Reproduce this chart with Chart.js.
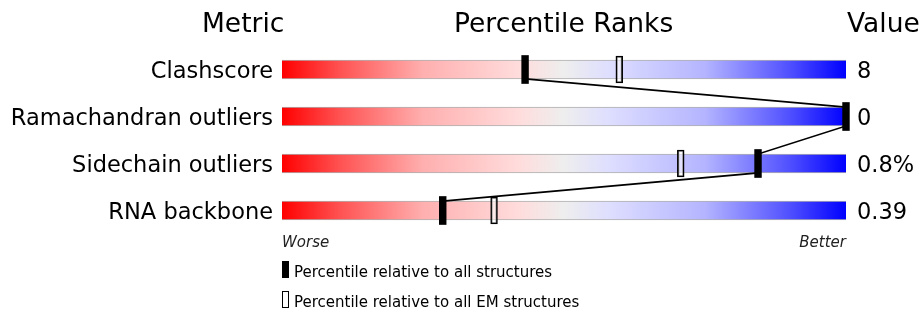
<!DOCTYPE html>
<html>
<head>
<meta charset="utf-8">
<script src="https://cdn.jsdelivr.net/npm/chart.js@4"></script>
<style>
  html, body { margin: 0; padding: 0; background: #fff; }
  #wrap { position: relative; width: 922px; height: 312px; overflow: hidden; font-family: "DejaVu Sans", sans-serif; color: #000; }
  #c { position: absolute; left: 0; top: 0; }
  .t { position: absolute; white-space: nowrap; line-height: 1; }
  .hdr { font-size: 26.5px; top: 10px; }
  .it { font-size: 15px; font-style: italic; top: 235px; color: #222; }
  .lg { font-size: 15px; left: 294px; }
  .sw { position: absolute; left: 282px; width: 7px; box-sizing: border-box; }
</style>
</head>
<body>
<div id="wrap">
  <canvas id="c" width="922" height="312"></canvas>
  <div class="t hdr" style="left:202px">Metric</div>
  <div class="t hdr" style="left:454px">Percentile Ranks</div>
  <div class="t hdr" style="left:847px">Value</div>
  <div class="t it" style="left:282px">Worse</div>
  <div class="t it" style="right:76px">Better</div>
  <div class="sw" style="top:261px;height:17px;background:#000"></div>
  <div class="t lg" style="top:265px">Percentile relative to all structures</div>
  <div class="sw" style="top:291px;background:#fff;border:1.5px solid #000;height:17px"></div>
  <div class="t lg" style="top:295px">Percentile relative to all EM structures</div>
</div>
<script>
const metrics = ["Clashscore", "Ramachandran outliers", "Sidechain outliers", "RNA backbone"];
const valueLabels = ["8", "0", "0.8%", "0.39"];
const pctAll = [43.1, 100, 84.4, 28.5];
const pctEM = [59.8, null, 70.7, 37.6];

const half = 0.6;     // marker half-width in percentile units
const edge = 0.2;     // bar half-height in category units

const gradientBars = metrics.map(() => [0, 100]);
const allMarkers = pctAll.map(p => p == null ? null : [p - half, p + half]);
const emMarkers = pctEM.map(p => p == null ? null : [p - half, p + half]);
const linkPoints = [];
pctAll.forEach((p, i) => {
  if (i > 0) linkPoints.push({x: p, y: i - edge});
  if (i < pctAll.length - 1) linkPoints.push({x: p, y: i + edge});
});

function grad(ctx) {
  const chart = ctx.chart;
  const area = chart.chartArea;
  if (!area) return '#eee';
  const g = chart.ctx.createLinearGradient(area.left, 0, area.right, 0);
  g.addColorStop(0.00, 'rgb(255,0,0)');
  g.addColorStop(0.10, 'rgb(255,80,80)');
  g.addColorStop(0.25, 'rgb(255,175,175)');
  g.addColorStop(0.42, 'rgb(255,220,220)');
  g.addColorStop(0.50, 'rgb(238,238,238)');
  g.addColorStop(0.58, 'rgb(222,222,255)');
  g.addColorStop(0.75, 'rgb(180,180,255)');
  g.addColorStop(0.90, 'rgb(80,80,255)');
  g.addColorStop(1.00, 'rgb(0,0,255)');
  return g;
}

new Chart(document.getElementById('c'), {
  type: 'bar',
  data: {
    labels: metrics,
    datasets: [
      {
        label: 'range', data: gradientBars, backgroundColor: grad,
        borderColor: 'rgb(175,175,175)', borderWidth: {top: 1, bottom: 1, left: 0, right: 0},
        borderSkipped: false, barThickness: 19, grouped: false, order: 4
      },
      {
        label: 'link', type: 'line', data: linkPoints, xAxisID: 'x', yAxisID: 'yl',
        borderColor: '#000', borderWidth: 1.6, pointRadius: 0, fill: false, tension: 0, order: 3
      },
      {
        label: 'em', data: emMarkers, backgroundColor: 'rgba(255,255,255,0.55)',
        borderColor: '#000', borderWidth: 1.5, borderSkipped: false, barThickness: 27,
        grouped: false, order: 2, clip: false
      },
      {
        label: 'all', data: allMarkers, backgroundColor: '#000', borderWidth: 0,
        barThickness: 28, grouped: false, order: 1, clip: false
      }
    ]
  },
  options: {
    indexAxis: 'y',
    responsive: false,
    animation: false,
    events: [],
    layout: { padding: { top: 46, bottom: 78, left: 0, right: 0 } },
    plugins: { legend: { display: false }, tooltip: { enabled: false } },
    scales: {
      x: { type: 'linear', min: 0, max: 100, display: false },
      y: {
        type: 'category', position: 'left', grid: { display: false, drawTicks: false }, border: { display: false },
        ticks: { color: '#000', font: { family: 'DejaVu Sans', size: 22.5 }, padding: 9, labelOffset: 2.5 },
        afterFit: s => { s.width = 282; }
      },
      y2: {
        type: 'category', position: 'right', labels: valueLabels, offset: true,
        grid: { display: false, drawTicks: false }, border: { display: false },
        ticks: { color: '#000', font: { family: 'DejaVu Sans', size: 22.5 }, padding: 11, labelOffset: 2.5 },
        afterFit: s => { s.width = 76; }
      },
      yl: { type: 'linear', min: -0.5, max: 3.5, reverse: true, offset: false, display: false }
    }
  }
});
</script>
</body>
</html>
